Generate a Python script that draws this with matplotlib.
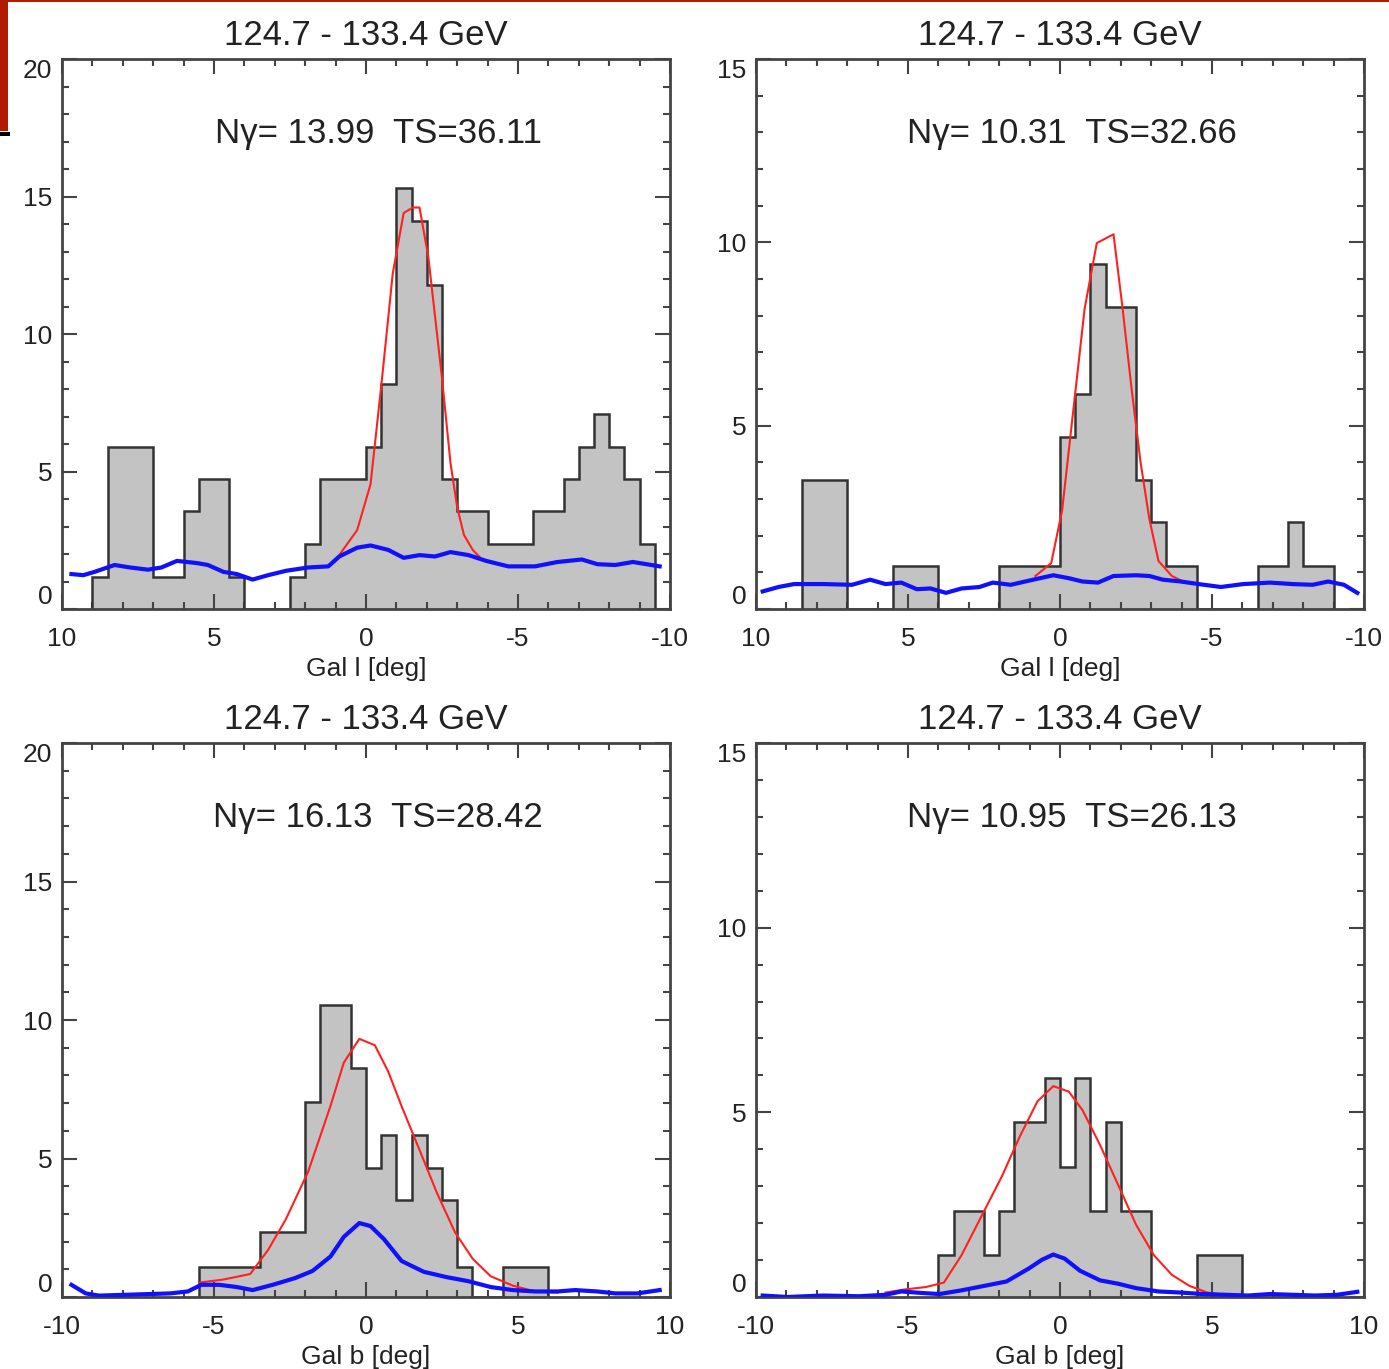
# 2x2 photon count profiles in Gal l / Gal b with histogram, model (red) and background (blue)

import numpy as np
import matplotlib
matplotlib.use("Agg")
import matplotlib.pyplot as plt
from matplotlib.patches import Rectangle
from matplotlib.ticker import MultipleLocator

plt.rcParams["font.family"] = ["Liberation Sans", "DejaVu Sans"]
plt.rcParams["axes.unicode_minus"] = False

title = "124.7 - 133.4 GeV"

# ---- panel 1: Gal l, 0-20 ----
p1_edges = [9.0, 8.5, 7.0, 6.0, 5.5, 4.5, 4.0, 2.5, 2.0, 1.5, 0.0, -0.5, -1.0, -1.5,
            -2.0, -2.5, -3.0, -4.0, -5.5, -6.5, -7.0, -7.5, -8.0, -8.5, -9.0, -9.5]
p1_counts = [1.15, 5.9, 1.15, 3.55, 4.73, 1.15, 0.0, 1.15, 2.36, 4.73, 5.9, 8.2, 15.3,
             14.1, 11.8, 4.73, 3.55, 2.36, 3.55, 4.73, 5.9, 7.1, 5.9, 4.73, 2.36]
p1_red_x = [0.88, 0.29, -0.15, -0.51, -0.88, -1.24, -1.54, -1.76, -2.05, -2.49, -2.78,
            -3.0, -3.22, -3.51, -3.73]
p1_red_y = [1.96, 2.87, 4.54, 8.2, 12.2, 14.4, 14.6, 14.6, 12.8, 8.5, 5.3, 3.7, 2.7,
            2.15, 1.9]
p1_blue_x = [9.69, 9.3, 8.93, 8.27, 7.76, 7.17, 6.73, 6.22, 5.56, 5.2, 4.69, 4.25, 3.73,
             3.22, 2.63, 1.9, 1.24, 0.88, 0.29, -0.15, -0.73, -1.24, -1.76, -2.27, -2.78,
             -3.37, -3.95, -4.68, -5.56, -6.3, -7.1, -7.61, -8.2, -8.78, -9.66]
p1_blue_y = [1.27, 1.23, 1.35, 1.6, 1.51, 1.43, 1.51, 1.75, 1.67, 1.6, 1.35, 1.27, 1.07,
             1.23, 1.39, 1.51, 1.55, 1.91, 2.23, 2.31, 2.15, 1.86, 1.96, 1.91, 2.07,
             1.96, 1.75, 1.55, 1.55, 1.71, 1.8, 1.63, 1.6, 1.71, 1.55]

# ---- panel 2: Gal l, 0-15 ----
p2_edges = [8.5, 7.0, 5.5, 4.0, 2.0, 0.0, -0.5, -1.0, -1.5, -2.5, -3.0, -3.5, -4.5,
            -6.5, -7.5, -8.0, -9.0]
p2_counts = [3.53, 0.0, 1.17, 0.0, 1.17, 4.7, 5.86, 9.4, 8.25, 3.53, 2.37, 1.17, 0.0,
             1.17, 2.37, 1.17]
p2_red_x = [0.81, 0.29, -0.07, -0.44, -0.81, -1.21, -1.76, -2.06, -2.35, -2.65, -2.94,
            -3.24, -3.68, -4.12]
p2_red_y = [0.9, 1.25, 2.69, 5.44, 8.19, 9.98, 10.22, 8.19, 6.04, 4.0, 2.45, 1.31, 0.9,
            0.72]
p2_blue_x = [9.78, 9.26, 8.75, 7.79, 6.84, 6.25, 5.74, 5.22, 4.71, 4.26, 3.75, 3.24,
             2.65, 2.21, 1.62, 0.88, 0.22, -0.29, -0.74, -1.25, -1.76, -2.5, -2.94,
             -3.38, -3.97, -4.56, -5.29, -6.03, -6.91, -7.65, -8.31, -8.82, -9.34, -9.78]
p2_blue_y = [0.48, 0.6, 0.68, 0.68, 0.66, 0.8, 0.68, 0.72, 0.54, 0.56, 0.44, 0.56, 0.6,
             0.72, 0.66, 0.8, 0.92, 0.84, 0.75, 0.72, 0.9, 0.92, 0.9, 0.8, 0.75, 0.68,
             0.6, 0.68, 0.72, 0.68, 0.66, 0.75, 0.66, 0.44]

# ---- panel 3: Gal b, 0-20 ----
p3_edges = [-5.5, -3.5, -2.0, -1.5, -0.5, 0.0, 0.5, 1.0, 1.5, 2.0, 2.5, 3.0, 3.5, 4.5, 6.0]
p3_counts = [1.1, 2.33, 7.04, 10.53, 8.25, 4.64, 5.86, 3.5, 5.86, 4.64, 3.5, 1.1, 0.0, 1.1]
p3_red_x = [-5.49, -4.69, -3.81, -3.22, -2.64, -1.9, -1.17, -0.73, -0.22, 0.29, 0.73,
            1.17, 1.76, 2.34, 2.93, 3.51, 4.1, 4.83, 5.56, 6.3]
p3_red_y = [0.52, 0.63, 0.83, 1.7, 2.8, 4.53, 6.89, 8.46, 9.32, 9.09, 8.14, 6.89, 5.31,
            3.74, 2.33, 1.38, 0.75, 0.41, 0.2, 0.16]
p3_blue_x = [-9.69, -9.22, -8.78, -7.61, -6.44, -5.86, -5.42, -4.83, -4.25, -3.73, -3.07,
             -2.34, -1.76, -1.17, -0.73, -0.22, 0.15, 0.59, 1.17, 1.9, 2.64, 3.37, 4.1,
             4.83, 5.56, 6.3, 6.88, 7.61, 8.2, 8.93, 9.66]
p3_blue_y = [0.44, 0.13, 0.05, 0.09, 0.13, 0.2, 0.44, 0.44, 0.36, 0.25, 0.44, 0.68, 0.94,
             1.46, 2.17, 2.67, 2.56, 2.09, 1.3, 0.91, 0.72, 0.57, 0.36, 0.25, 0.2, 0.2,
             0.25, 0.2, 0.13, 0.13, 0.25]

# ---- panel 4: Gal b, 0-15 ----
p4_edges = [-4.0, -3.5, -2.5, -2.0, -1.5, -0.5, 0.0, 0.5, 1.0, 1.5, 2.0, 3.0, 4.5, 6.0]
p4_counts = [1.13, 2.32, 1.13, 2.32, 4.73, 5.92, 3.51, 5.92, 2.32, 4.73, 2.32, 0.0, 1.13]
p4_red_x = [-5.74, -5.15, -4.41, -3.82, -3.24, -2.65, -1.91, -1.32, -0.74, -0.22, 0.29,
            0.74, 1.32, 1.91, 2.5, 3.09, 3.68, 4.26, 4.85, 5.44, 6.03]
p4_red_y = [0.12, 0.2, 0.27, 0.39, 1.13, 2.08, 3.27, 4.35, 5.3, 5.71, 5.56, 5.06, 4.11,
            3.04, 1.96, 1.13, 0.6, 0.3, 0.12, 0.06, 0.04]
p4_blue_x = [-9.78, -8.97, -7.79, -6.62, -5.74, -5.22, -4.56, -3.97, -3.24, -2.5, -1.76,
             -1.03, -0.59, -0.22, 0.15, 0.66, 1.32, 1.91, 2.5, 3.24, 3.97, 4.71, 5.44,
             6.18, 6.91, 7.65, 8.38, 9.12, 9.78]
p4_blue_y = [0.04, 0.0, 0.04, 0.02, 0.06, 0.15, 0.11, 0.08, 0.18, 0.3, 0.42, 0.77, 1.01,
             1.15, 1.04, 0.71, 0.45, 0.36, 0.24, 0.15, 0.12, 0.08, 0.06, 0.04, 0.08,
             0.06, 0.04, 0.06, 0.14]

panels = [
    dict(edges=p1_edges, counts=p1_counts, rx=p1_red_x, ry=p1_red_y, bx=p1_blue_x,
         by=p1_blue_y, ymax=20, xlim=(10, -10), xlabel="Gal l [deg]",
         label="N\u03b3= 13.99  TS=36.11"),
    dict(edges=p2_edges, counts=p2_counts, rx=p2_red_x, ry=p2_red_y, bx=p2_blue_x,
         by=p2_blue_y, ymax=15, xlim=(10, -10), xlabel="Gal l [deg]",
         label="N\u03b3= 10.31  TS=32.66"),
    dict(edges=p3_edges, counts=p3_counts, rx=p3_red_x, ry=p3_red_y, bx=p3_blue_x,
         by=p3_blue_y, ymax=20, xlim=(-10, 10), xlabel="Gal b [deg]",
         label="N\u03b3= 16.13  TS=28.42"),
    dict(edges=p4_edges, counts=p4_counts, rx=p4_red_x, ry=p4_red_y, bx=p4_blue_x,
         by=p4_blue_y, ymax=15, xlim=(-10, 10), xlabel="Gal b [deg]",
         label="N\u03b3= 10.95  TS=26.13"),
]

# axes boxes in figure pixels (left, top, right, bottom)
W, H = 1389, 1369
boxes = [(62, 59, 670, 609), (756, 59, 1364, 609),
         (62, 743, 670, 1297), (756, 743, 1364, 1297)]

fig = plt.figure(figsize=(W / 100, H / 100), dpi=100)
fig.patch.set_facecolor("white")

# slide artefacts: red strip top-left, thin red line on top
fig.add_artist(Rectangle((0, 1 - 131 / H), 8 / W, 131 / H, transform=fig.transFigure,
                         facecolor="#b01c00", edgecolor="none"))
fig.add_artist(Rectangle((0, 1 - 136 / H), 10 / W, 4 / H, transform=fig.transFigure,
                         facecolor="black", edgecolor="none"))
fig.add_artist(Rectangle((0, 1 - 2 / H), 1, 2 / H, transform=fig.transFigure,
                         facecolor="#b01c00", edgecolor="none"))

frame_col = "#444444"

for p, (l, t, r, b) in zip(panels, boxes):
    ax = fig.add_axes([l / W, 1 - b / H, (r - l) / W, (b - t) / H])
    edges = np.array(p["edges"])
    counts = np.array(p["counts"])
    if edges[0] > edges[-1]:
        edges = edges[::-1]
        counts = counts[::-1]
    ax.stairs(counts, edges, fill=True, facecolor="#c3c3c3", edgecolor="none", zorder=1)
    ax.stairs(counts, edges, baseline=0, color="#333333", linewidth=1.8, zorder=2)
    ax.plot(p["rx"], p["ry"], color="#ff2020", linewidth=1.5, zorder=3)
    ax.plot(p["bx"], p["by"], color="#1010ff", linewidth=3.0, zorder=4)

    ax.set_xlim(*p["xlim"])
    ax.set_ylim(0, p["ymax"])
    ax.xaxis.set_major_locator(MultipleLocator(5))
    ax.xaxis.set_minor_locator(MultipleLocator(1))
    ax.set_yticks(np.arange(0, p["ymax"] + 1, 5))
    ax.yaxis.set_minor_locator(MultipleLocator(1))
    ax.tick_params(which="both", direction="in", top=True, right=True,
                   color=frame_col, width=1.5, labelsize=19, labelcolor="#222222")
    ax.tick_params(which="major", length=11)
    ax.tick_params(axis="x", which="major", pad=13)
    ax.tick_params(axis="y", which="major", pad=7)
    ax.tick_params(which="minor", length=5)
    # IDL style: end labels pulled inside the axis range
    ylabels = ax.get_yticklabels()
    ylabels[0].set_va("bottom")
    ylabels[-1].set_va("top")
    for s in ax.spines.values():
        s.set_color(frame_col)
        s.set_linewidth(2.0)

    ax.set_title(title, fontsize=25, color="#222222", pad=10)
    ax.set_xlabel(p["xlabel"], fontsize=19, color="#222222", labelpad=4)
    ax.text(0.52, 0.865, p["label"], transform=ax.transAxes, ha="center", va="center",
            fontsize=25, color="#222222")

fig.savefig("out.png", dpi=100, facecolor="white")
